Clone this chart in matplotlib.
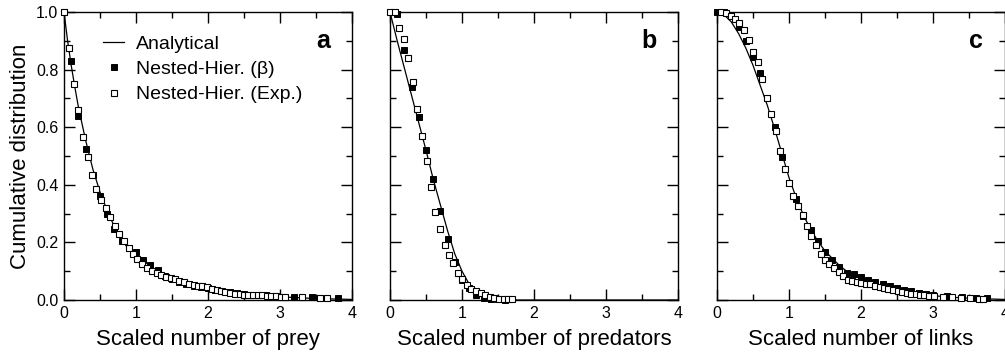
import matplotlib
matplotlib.use("Agg")
import matplotlib.pyplot as plt
from matplotlib.ticker import MultipleLocator, FormatStrFormatter

plt.rcParams["font.family"] = ["Liberation Sans", "DejaVu Sans"]

# panel a : prey
a_line_x = [0.0, 0.05, 0.1, 0.15, 0.2, 0.3, 0.4, 0.5, 0.6, 0.7, 0.8, 0.9, 1.0, 1.1, 1.2,
            1.4, 1.6, 1.8, 2.0, 2.2, 2.5, 3.0, 3.5, 4.0]
a_line_y = [1.0, 0.90, 0.815, 0.74, 0.67, 0.555, 0.455, 0.375, 0.31, 0.255, 0.21, 0.175, 0.145,
            0.12, 0.102, 0.078, 0.062, 0.05, 0.04, 0.032, 0.022, 0.011, 0.005, 0.002]
a_beta_x = [0.0, 0.1, 0.2, 0.3, 0.4, 0.5, 0.6, 0.7, 0.8, 0.9, 1.0, 1.1, 1.2, 1.3, 1.4, 1.5,
            1.6, 1.7, 1.8, 1.9, 2.0, 2.1, 2.2, 2.3, 2.4, 2.5, 2.8, 3.2, 3.45, 3.55, 3.8]
a_beta_y = [1.0, 0.83, 0.64, 0.525, 0.435, 0.36, 0.30, 0.245, 0.205, 0.18, 0.165, 0.14, 0.12,
            0.105, 0.085, 0.072, 0.062, 0.055, 0.05, 0.045, 0.04, 0.035, 0.03, 0.027, 0.024,
            0.021, 0.016, 0.012, 0.010, 0.008, 0.006]
a_exp_x = [0.0, 0.07, 0.14, 0.2, 0.27, 0.33, 0.39, 0.45, 0.52, 0.58, 0.64, 0.71, 0.77, 0.83,
           0.9, 0.96, 1.02, 1.09, 1.15, 1.22, 1.29, 1.35, 1.41, 1.48, 1.54, 1.6, 1.67, 1.73,
           1.8, 1.86, 1.92, 1.99, 2.05, 2.12, 2.18, 2.24, 2.31, 2.37, 2.44, 2.5, 2.56, 2.63,
           2.69, 2.75, 2.82, 2.88, 2.94, 3.01, 3.07, 3.3, 3.55, 3.65]
a_exp_y = [1.0, 0.876, 0.749, 0.659, 0.565, 0.495, 0.435, 0.385, 0.347, 0.318, 0.289, 0.258,
           0.228, 0.206, 0.18, 0.16, 0.141, 0.125, 0.11, 0.10, 0.093, 0.086, 0.081, 0.076,
           0.072, 0.067, 0.062, 0.057, 0.052, 0.05, 0.047, 0.044, 0.039, 0.035, 0.031, 0.028,
           0.024, 0.022, 0.02, 0.018, 0.017, 0.017, 0.016, 0.016, 0.015, 0.014, 0.013, 0.012,
           0.011, 0.009, 0.006, 0.006]

# panel b : predators
b_line_x = [0.0, 0.1, 0.2, 0.3, 0.4, 0.5, 0.6, 0.7, 0.8, 0.9, 1.0, 1.1, 1.2, 1.3, 1.4, 1.5,
            1.6, 1.8, 2.0, 4.0]
b_line_y = [1.0, 0.90, 0.805, 0.71, 0.615, 0.52, 0.42, 0.33, 0.24, 0.16, 0.10, 0.055, 0.028,
            0.012, 0.005, 0.002, 0.001, 0.0, 0.0, 0.0]
b_beta_x = [0.1, 0.2, 0.3, 0.4, 0.5, 0.6, 0.7, 0.8, 0.9, 1.0, 1.1, 1.2, 1.3, 1.4, 1.5, 1.6]
b_beta_y = [0.993, 0.868, 0.738, 0.634, 0.521, 0.419, 0.31, 0.212, 0.131, 0.07, 0.042, 0.019,
            0.008, 0.004, 0.002, 0.001]
b_exp_x = [0.0, 0.075, 0.13, 0.19, 0.25, 0.32, 0.38, 0.44, 0.51, 0.57, 0.63, 0.69, 0.76, 0.82,
           0.88, 0.94, 1.0, 1.07, 1.13, 1.2, 1.26, 1.32, 1.39, 1.45, 1.52, 1.58, 1.64, 1.7]
b_exp_y = [1.0, 1.0, 0.946, 0.905, 0.84, 0.757, 0.663, 0.571, 0.483, 0.391, 0.307, 0.248,
           0.192, 0.155, 0.13, 0.095, 0.072, 0.053, 0.039, 0.03, 0.023, 0.016, 0.012, 0.008,
           0.005, 0.003, 0.002, 0.002]

# panel c : links
c_line_x = [0.0, 0.1, 0.2, 0.3, 0.4, 0.5, 0.6, 0.7, 0.8, 0.9, 1.0, 1.1, 1.2, 1.3, 1.4, 1.5,
            1.6, 1.7, 1.8, 1.9, 2.0, 2.2, 2.4, 2.6, 2.8, 3.0, 3.3, 3.6, 4.0]
c_line_y = [1.0, 0.99, 0.965, 0.925, 0.875, 0.815, 0.745, 0.675, 0.595, 0.51, 0.425, 0.355,
            0.295, 0.245, 0.205, 0.17, 0.145, 0.12, 0.10, 0.085, 0.073, 0.055, 0.04, 0.03,
            0.022, 0.015, 0.009, 0.005, 0.002]
c_beta_x = [0.0, 0.1, 0.2, 0.3, 0.4, 0.5, 0.6, 0.7, 0.8, 0.9, 1.0, 1.1, 1.2, 1.3, 1.4, 1.5,
            1.6, 1.7, 1.8, 1.9, 2.0, 2.1, 2.2, 2.3, 2.4, 2.5, 2.6, 2.7, 2.8, 2.9, 3.0, 3.2,
            3.4, 3.6, 3.75]
c_beta_y = [1.0, 1.0, 0.99, 0.949, 0.90, 0.843, 0.789, 0.70, 0.60, 0.495, 0.407, 0.352, 0.292,
            0.243, 0.206, 0.165, 0.139, 0.116, 0.095, 0.09, 0.079, 0.069, 0.0625, 0.054,
            0.049, 0.042, 0.036, 0.031, 0.026, 0.022, 0.018, 0.013, 0.010, 0.007, 0.006]
c_exp_x = [0.06, 0.12, 0.19, 0.25, 0.31, 0.38, 0.44, 0.5, 0.57, 0.63, 0.69, 0.75, 0.82, 0.88,
           0.94, 1.0, 1.06, 1.13, 1.19, 1.25, 1.31, 1.37, 1.44, 1.5, 1.56, 1.63, 1.69, 1.75,
           1.82, 1.88, 1.94, 2.0, 2.07, 2.13, 2.19, 2.26, 2.32, 2.38, 2.45, 2.51, 2.57, 2.64,
           2.7, 2.76, 2.82, 2.88, 2.95, 3.01, 3.14, 3.26, 3.39, 3.51, 3.64, 3.7]
c_exp_y = [1.0, 0.998, 0.987, 0.976, 0.963, 0.936, 0.902, 0.861, 0.825, 0.766, 0.70, 0.646,
           0.587, 0.519, 0.456, 0.407, 0.362, 0.326, 0.294, 0.256, 0.221, 0.19, 0.16, 0.14,
           0.124, 0.11, 0.096, 0.083, 0.071, 0.065, 0.0625, 0.06, 0.057, 0.054, 0.05, 0.045,
           0.04, 0.037, 0.034, 0.03, 0.028, 0.024, 0.022, 0.02, 0.017, 0.016, 0.014, 0.013,
           0.011, 0.010, 0.008, 0.007, 0.005, 0.005]

panels = [
    ("a", "Scaled number of prey", a_line_x, a_line_y, a_beta_x, a_beta_y, a_exp_x, a_exp_y),
    ("b", "Scaled number of predators", b_line_x, b_line_y, b_beta_x, b_beta_y, b_exp_x, b_exp_y),
    ("c", "Scaled number of links", c_line_x, c_line_y, c_beta_x, c_beta_y, c_exp_x, c_exp_y),
]
lefts = [64, 390, 717]

fig = plt.figure(figsize=(10.05, 3.53), dpi=100)
W, H = 1005, 353

for i, (tag, xlabel, lx, ly, bx, by, ex, ey) in enumerate(panels):
    ax = fig.add_axes([lefts[i] / W, 53 / H, 288 / W, 288 / H])
    ax.plot(lx, ly, color="black", lw=0.9, label="Analytical", zorder=2)
    ax.plot(bx, by, ls="none", marker="s", ms=5, mfc="black", mec="black",
            mew=0.7, label="Nested-Hier. (β)", zorder=3, clip_on=False)
    ax.plot(ex, ey, ls="none", marker="s", ms=5, mfc="white", mec="black",
            mew=0.8, label="Nested-Hier. (Exp.)", zorder=4, clip_on=False)
    ax.set_xlim(0, 4)
    ax.set_ylim(0, 1)
    ax.xaxis.set_major_locator(MultipleLocator(1))
    ax.xaxis.set_minor_locator(MultipleLocator(0.5))
    ax.yaxis.set_major_locator(MultipleLocator(0.2))
    ax.yaxis.set_minor_locator(MultipleLocator(0.1))
    ax.tick_params(which="both", direction="in", top=True, right=True, width=1)
    ax.tick_params(which="major", length=8, labelsize=11.5, pad=4)
    ax.tick_params(which="minor", length=4)
    for s in ax.spines.values():
        s.set_linewidth(1)
    ax.set_xlabel(xlabel, fontsize=16, labelpad=6)
    if i == 0:
        ax.yaxis.set_major_formatter(FormatStrFormatter("%.1f"))
        ax.set_ylabel("Cumulative distribution", fontsize=16, labelpad=4)
        ax.legend(loc="upper left", bbox_to_anchor=(0.135, 0.92), frameon=False,
                  fontsize=14, handlelength=1.1, handletextpad=0.6, markerscale=0.8,
                  labelspacing=0.4, borderaxespad=0, borderpad=0)
    else:
        ax.set_yticklabels([])
    ax.text(0.9, 0.9, tag, transform=ax.transAxes, fontsize=18, fontweight="bold",
            ha="center", va="center")

fig.savefig("out.png", dpi=100)
